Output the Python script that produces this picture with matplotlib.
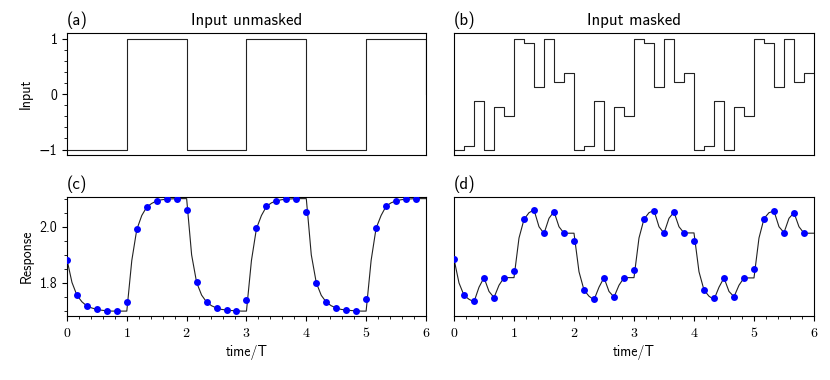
import numpy as np
import matplotlib
matplotlib.use('Agg')
import matplotlib.pyplot as plt
from matplotlib.ticker import AutoMinorLocator, FuncFormatter, MultipleLocator

plt.rcParams['font.family'] = ['cmss10', 'DejaVu Sans']
plt.rcParams['mathtext.fontset'] = 'cm'
plt.rcParams['axes.unicode_minus'] = True
plt.rcParams['font.size'] = 10

# ---------------- data ----------------
# input samples at t = k/6 (k = 0..36), drawn as steps
input_unmasked = [-1, -1, -1, -1, -1, -1,
                  1, 1, 1, 1, 1, 1,
                  -1, -1, -1, -1, -1, -1,
                  1, 1, 1, 1, 1, 1,
                  -1, -1, -1, -1, -1, -1,
                  1, 1, 1, 1, 1, 1,
                  0]
input_masked = [-1.0, -0.93, -0.13, -1.0, -0.23, -0.39,
                1.0, 0.93, 0.13, 1.0, 0.23, 0.39,
                -1.0, -0.93, -0.13, -1.0, -0.23, -0.39,
                1.0, 0.93, 0.13, 1.0, 0.23, 0.39,
                -1.0, -0.93, -0.13, -1.0, -0.23, -0.39,
                1.0, 0.93, 0.13, 1.0, 0.23, 0.39,
                0.39]

# sampled responses (dots) at t = k/6 (k = 0..35)
dots_unmasked = [1.883, 1.756, 1.718, 1.706, 1.701, 1.700,
                 1.732, 1.992, 2.071, 2.092, 2.098, 2.098,
                 2.058, 1.802, 1.732, 1.711, 1.705, 1.701,
                 1.738, 1.994, 2.073, 2.092, 2.098, 2.098,
                 2.052, 1.801, 1.732, 1.711, 1.704, 1.701,
                 1.743, 1.996, 2.073, 2.092, 2.097, 2.097]
dots_masked = [1.885, 1.756, 1.736, 1.819, 1.748, 1.819,
               1.843, 2.026, 2.060, 1.976, 2.054, 1.977,
               1.951, 1.775, 1.744, 1.819, 1.750, 1.819,
               1.846, 2.027, 2.057, 1.977, 2.051, 1.979,
               1.948, 1.775, 1.745, 1.818, 1.751, 1.818,
               1.850, 2.029, 2.055, 1.979, 2.050, 1.977]

# continuous responses (line) read at t = k/12 (k = 0..72)
line_unmasked = [1.883, 1.802, 1.756, 1.733, 1.718, 1.711, 1.706, 1.703, 1.701, 1.700, 1.700, 1.700,
                 1.700, 1.880, 1.990, 2.040, 2.070, 2.083, 2.092, 2.096, 2.098, 2.099, 2.100, 2.100,
                 2.100, 1.900, 1.802, 1.757, 1.732, 1.719, 1.711, 1.706, 1.704, 1.702, 1.701, 1.700,
                 1.700, 1.880, 1.993, 2.040, 2.072, 2.085, 2.092, 2.096, 2.098, 2.099, 2.100, 2.100,
                 2.100, 1.900, 1.801, 1.756, 1.732, 1.719, 1.711, 1.706, 1.704, 1.702, 1.701, 1.700,
                 1.700, 1.880, 1.995, 2.040, 2.073, 2.085, 2.092, 2.096, 2.098, 2.099, 2.100, 2.100,
                 2.100]
line_masked = [1.885, 1.800, 1.756, 1.742, 1.733, 1.785, 1.819, 1.770, 1.748, 1.792, 1.819, 1.819,
               1.819, 1.960, 2.026, 2.050, 2.060, 2.000, 1.976, 2.030, 2.054, 2.000, 1.977, 1.977,
               1.977, 1.840, 1.775, 1.753, 1.740, 1.785, 1.819, 1.770, 1.750, 1.792, 1.819, 1.819,
               1.819, 1.960, 2.027, 2.050, 2.058, 2.000, 1.977, 2.030, 2.052, 2.000, 1.978, 1.978,
               1.978, 1.840, 1.775, 1.753, 1.741, 1.785, 1.818, 1.770, 1.751, 1.792, 1.818, 1.818,
               1.818, 1.960, 2.029, 2.050, 2.056, 2.000, 1.979, 2.030, 2.050, 2.000, 1.977, 1.977,
               1.977]

t_input = np.arange(len(input_unmasked)) / 6.0
t_dots = np.arange(len(dots_unmasked)) / 6.0
t_line = np.arange(len(line_unmasked)) / 12.0

# ---------------- figure ----------------
fig = plt.figure(figsize=(8.3, 3.8), dpi=100)
ax_a = fig.add_axes([0.0807, 0.592, 0.4325, 0.320])
ax_b = fig.add_axes([0.5470, 0.592, 0.4337, 0.320])
ax_c = fig.add_axes([0.0807, 0.168, 0.4325, 0.313])
ax_d = fig.add_axes([0.5470, 0.168, 0.4337, 0.313])

lc = '#222222'
ax_a.step(t_input, input_unmasked, where='post', color=lc, lw=0.8)
ax_b.step(t_input, input_masked, where='post', color=lc, lw=0.8)

for ax, line, dots in ((ax_c, line_unmasked, dots_unmasked), (ax_d, line_masked, dots_masked)):
    ax.plot(t_line, line, color=lc, lw=0.8, zorder=2)
    ax.plot(t_dots, dots, 'o', color='#0000ff', ms=5, mec='none', zorder=3)

for ax in (ax_a, ax_b):
    ax.set_xlim(0, 6)
    ax.set_ylim(-1.1, 1.1)
    ax.tick_params(axis='x', which='both', bottom=False, labelbottom=False)
    ax.yaxis.set_major_locator(MultipleLocator(1))
    ax.yaxis.set_minor_locator(AutoMinorLocator())

for ax in (ax_c, ax_d):
    ax.set_xlim(0, 6)
    ax.set_ylim(1.682, 2.105)
    ax.xaxis.set_major_locator(MultipleLocator(1))
    ax.xaxis.set_minor_locator(AutoMinorLocator())
    ax.xaxis.set_major_formatter(FuncFormatter(lambda v, p: r'$%d$' % round(v)))
    ax.yaxis.set_major_locator(MultipleLocator(0.2))
    ax.yaxis.set_minor_locator(AutoMinorLocator())
    ax.set_xlabel('time/T')

for ax in (ax_b, ax_d):
    ax.tick_params(axis='y', which='both', left=False, labelleft=False)

ax_a.set_ylabel('Input')
ax_c.set_ylabel('Response')

ax_a.set_title('(a)', loc='left')
ax_a.set_title('Input unmasked')
ax_b.set_title('(b)', loc='left')
ax_b.set_title('Input masked')
ax_c.set_title('(c)', loc='left')
ax_d.set_title('(d)', loc='left')

fig.savefig('out.png', dpi=100)
